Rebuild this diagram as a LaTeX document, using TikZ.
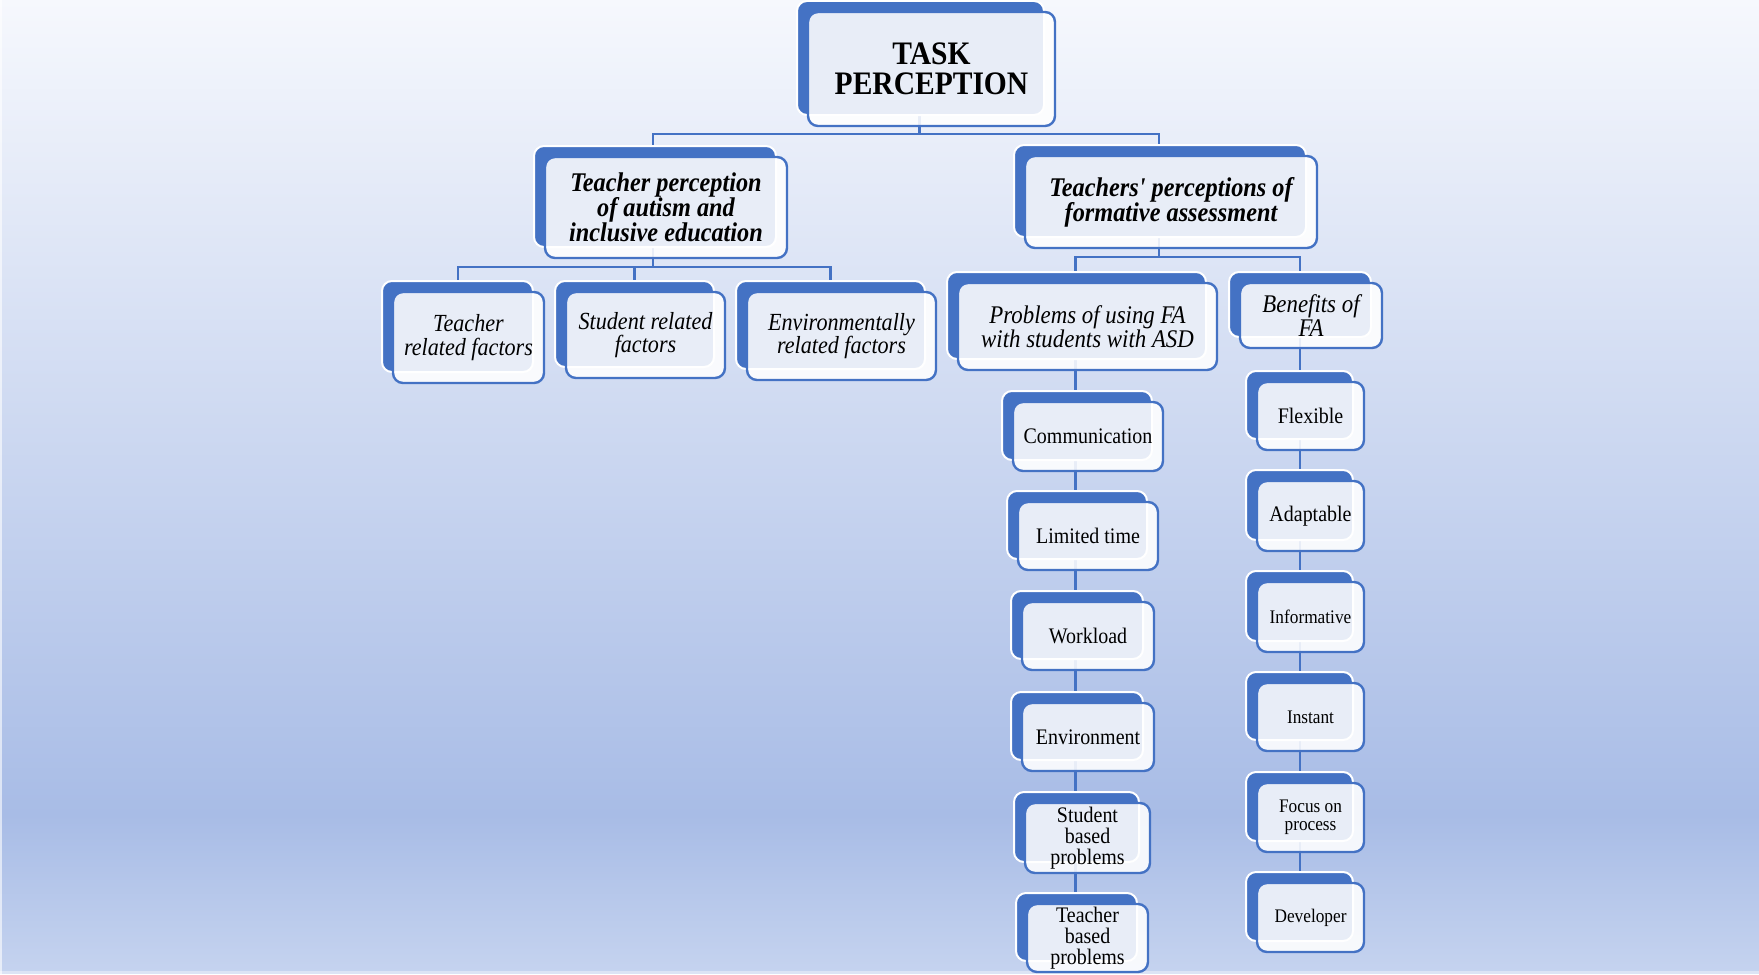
\documentclass[tikz,border=0pt]{standalone}
\usepackage{fontspec}
\setmainfont{Liberation Serif}[FakeStretch=0.9, Ligatures=TeXOff]
\usetikzlibrary{shadows}

\definecolor{accent}{HTML}{4472C4}
\definecolor{bgtop}{HTML}{F6F8FD}
\definecolor{bgmid}{HTML}{A8BCE6}
\definecolor{bgbot}{HTML}{C5D3EF}
\definecolor{bgedge}{HTML}{DCE4F5}

\pgfdeclarelayer{back}
\pgfsetlayers{back,main}

\tikzset{
  card/.style={draw=accent, line width=1.2pt, fill=white, fill opacity=0.88,
    text opacity=1, rounded corners=5pt, align=center, inner sep=1pt,
    copy shadow={shadow xshift=-5.5pt, shadow yshift=5.5pt, fill=accent,
      draw=white, line width=1pt, fill opacity=1, draw opacity=1}},
  conn/.style={draw=accent, line width=1.4pt},
  rootfont/.style={font=\fontsize{16.4}{15}\selectfont\bfseries},
  headfont/.style={font=\fontsize{13.5}{12.6}\selectfont\bfseries\itshape},
  subfont/.style={font=\fontsize{12.3}{11.8}\selectfont\itshape},
  branchfont/.style={font=\fontsize{12.7}{12}\selectfont\itshape},
  leaffont/.style={font=\fontsize{11.1}{10.5}\selectfont},
  smallfont/.style={font=\fontsize{9.6}{9.2}\selectfont},
}

\begin{document}
\begin{tikzpicture}[x=0.5pt, y=-0.5pt]
\useasboundingbox (0,0) rectangle (1759,974);

% background gradient
\begin{pgfonlayer}{back}
  \shade[top color=bgtop, bottom color=bgmid] (0,0) rectangle (1759,815);
  \shade[top color=bgmid, bottom color=bgbot] (0,815) rectangle (1759,972);
  \fill[bgedge] (0,971) rectangle (1759,974);
  \fill[white, opacity=0.6] (0,0) rectangle (1.5,974);
\end{pgfonlayer}

% root
\node[card, rootfont, minimum width=123.5pt, minimum height=57pt] (task) at (931.5,69) {TASK\\PERCEPTION};

% second level
\node[card, headfont, minimum width=121pt, minimum height=50.5pt] (tp) at (666,207.5)
  {Teacher perception\\of autism and\\inclusive education};
\node[card, headfont, minimum width=146pt, minimum height=46pt] (tf) at (1171,202)
  {Teachers' perceptions of\\formative assessment};

% third level, left
\node[card, subfont, minimum width=75.5pt, minimum height=45.5pt] (trf) at (468.5,337.5)
  {Teacher\\related factors};
\node[card, subfont, minimum width=79.5pt, minimum height=43pt] (srf) at (645.5,335)
  {Student related\\factors};
\node[card, subfont, minimum width=94.5pt, minimum height=44pt] (erf) at (841.5,336)
  {Environmentally\\related factors};

% third level, right
\node[card, branchfont, minimum width=129.5pt, minimum height=43.5pt] (prob) at (1087.5,326.5)
  {Problems of using FA\\with students with ASD};
\node[card, branchfont, minimum width=71pt, minimum height=32.5pt] (ben) at (1311,315.5)
  {Benefits of\\FA};

% problems column
\node[card, leaffont, minimum width=75pt, minimum height=34.5pt] (comm) at (1088,436.5) {Communication};
\node[card, leaffont, minimum width=70pt, minimum height=34pt] (lim) at (1088,536) {Limited time};
\node[card, leaffont, minimum width=66pt, minimum height=34pt] (work) at (1088,636) {Workload};
\node[card, leaffont, minimum width=66pt, minimum height=34pt] (env) at (1088,737) {Environment};
\node[card, leaffont, minimum width=62.5pt, minimum height=35pt] (sbp) at (1087.5,838) {Student\\based\\problems};
\node[card, leaffont, minimum width=60.5pt, minimum height=34pt] (tbp) at (1087.5,938) {Teacher\\based\\problems};

% benefits column
\node[card, leaffont, minimum width=53.5pt, minimum height=34pt] (flex) at (1310.5,416) {Flexible};
\node[card, leaffont, minimum width=53.5pt, minimum height=35pt] (adapt) at (1310.5,516) {Adaptable};
\node[card, smallfont, minimum width=53.5pt, minimum height=35pt] (info) at (1310.5,617) {Informative};
\node[card, smallfont, minimum width=53.5pt, minimum height=34pt] (inst) at (1310.5,717) {Instant};
\node[card, smallfont, minimum width=53.5pt, minimum height=34.5pt] (focus) at (1310.5,817.5) {Focus on\\process};
\node[card, smallfont, minimum width=53.5pt, minimum height=34.5pt] (dev) at (1310.5,917.5) {Developer};

% stems and bus heights
\coordinate (task-s) at ([xshift=-6pt]task.center);
\coordinate (tp-s) at ([xshift=-6.5pt]tp.center);
\coordinate (tf-s) at ([xshift=-6pt]tf.center);
\coordinate (trf-s) at ([xshift=-5.25pt]trf.center);
\coordinate (srf-s) at ([xshift=-5.5pt]srf.center);
\coordinate (erf-s) at ([xshift=-5.5pt]erf.center);
\coordinate (prob-s) at ([xshift=-6pt]prob.center);
\coordinate (ben-s) at ([xshift=-5.5pt]ben.center);
\coordinate (busA) at (0,134);
\coordinate (busB) at (0,267);
\coordinate (busC) at (0,257);

% connectors, kept behind the cards
\begin{pgfonlayer}{back}
  \draw[conn] (task-s) -- (task-s |- busA);
  \draw[conn] (tp-s) |- (tf-s |- busA) -- (tf-s);
  \draw[conn] (tp-s) -- (tp-s |- busB);
  \draw[conn] (trf-s) |- (erf-s |- busB) -- (erf-s);
  \draw[conn] (srf-s) -- (srf-s |- busB);
  \draw[conn] (tf-s) -- (tf-s |- busC);
  \draw[conn] (prob-s) |- (ben-s |- busC) -- (ben-s);
  \draw[conn] (prob-s) -- (prob-s |- tbp.center);
  \draw[conn] (ben-s) -- (ben-s |- dev.center);
\end{pgfonlayer}
\end{tikzpicture}
\end{document}
